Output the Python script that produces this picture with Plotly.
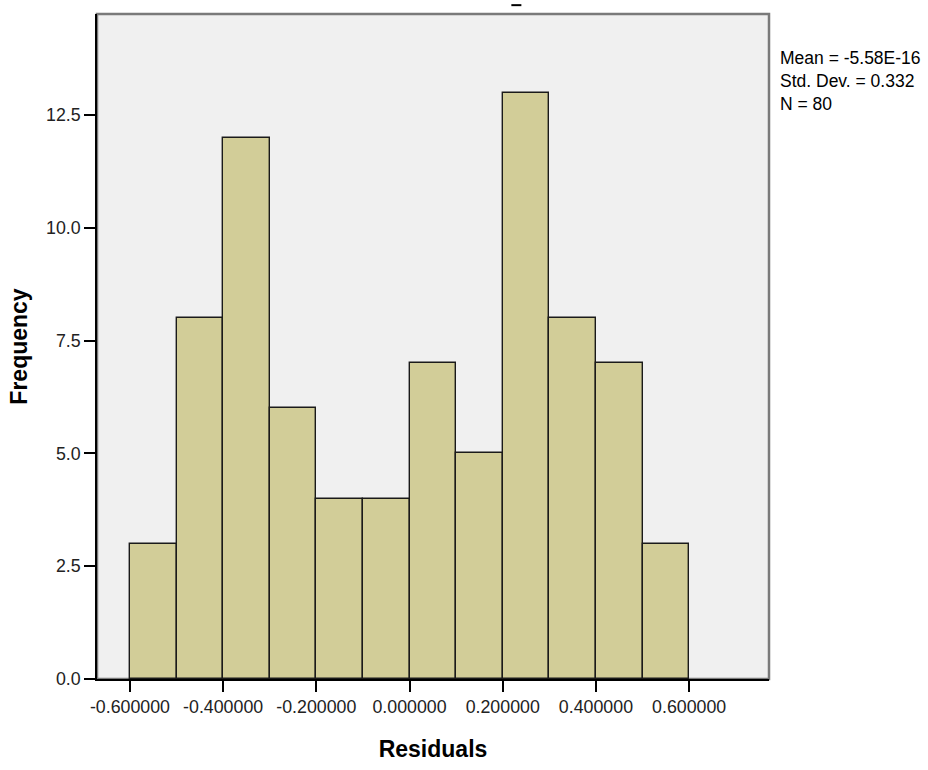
import plotly.graph_objects as go

# Data
bin_starts = [-0.6, -0.5, -0.4, -0.3, -0.2, -0.1, 0.0, 0.1, 0.2, 0.3, 0.4, 0.5]
counts = [3, 8, 12, 6, 4, 4, 7, 5, 13, 8, 7, 3]
bin_width = 0.1
x_tickvals = [-0.6, -0.4, -0.2, 0.0, 0.2, 0.4, 0.6]
x_ticktext = ["-0.600000", "-0.400000", "-0.200000", "0.000000", "0.200000", "0.400000", "0.600000"]
y_tickvals = [0, 2.5, 5, 7.5, 10, 12.5]
y_ticktext = ["0.0", "2.5", "5.0", "7.5", "10.0", "12.5"]
stats_lines = ["Mean = -5.58E-16", "Std. Dev. = 0.332", "N = 80"]

centers = [s + bin_width / 2 for s in bin_starts]

W, H = 928, 770
L, R, T, B = 97, 159, 14, 78

fig = go.Figure()
fig.add_trace(go.Bar(
    x=centers, y=counts, width=[bin_width] * len(counts),
    marker=dict(color="#d2cd98", line=dict(color="#1a1a1a", width=1.4)),
    showlegend=False, hoverinfo="skip",
))

font = "Liberation Sans, Arial, sans-serif"

fig.update_layout(
    width=W, height=H,
    margin=dict(l=L, r=R, t=T, b=B, pad=0),
    paper_bgcolor="white", plot_bgcolor="#f0f0f0",
    bargap=0,
    font=dict(family=font, size=17, color="#222222"),
    xaxis=dict(
        range=[-0.6707, 0.7714], tickvals=x_tickvals, ticktext=x_ticktext,
        showgrid=False, zeroline=False, showline=True, linecolor="#000000", linewidth=1.5,
        ticks="outside", ticklen=11, tickwidth=1.5, tickcolor="#000000",
        tickfont=dict(size=17.8, color="#222222", family=font),
        title=dict(text="<b>Residuals</b>", font=dict(size=23, color="#000000", family=font), standoff=25),
    ),
    yaxis=dict(
        range=[0, 14.74], tickvals=y_tickvals, ticktext=y_ticktext,
        showgrid=False, zeroline=False, showline=True, linecolor="#000000", linewidth=1.5,
        ticks="outside", ticklen=11, tickwidth=1.5, tickcolor="#000000",
        tickfont=dict(size=17.8, color="#222222", family=font),
        title=dict(text="<b>Frequency</b>", font=dict(size=23, color="#000000", family=font), standoff=12),
    ),
    shapes=[
        dict(type="rect", xref="paper", yref="paper", x0=0, x1=1, y0=0, y1=1,
             line=dict(color="#7a7a7a", width=2.5), layer="below"),
        dict(type="line", xref="paper", yref="paper", x0=0.6166, x1=0.6315, y0=1.0133, y1=1.0133,
             line=dict(color="#000000", width=2)),
    ],
)

fig.add_annotation(
    text="<br>".join(stats_lines), xref="paper", yref="paper",
    x=1.0134, y=1 - (47 - T) / (H - T - B),
    xanchor="left", yanchor="top", align="left", showarrow=False,
    font=dict(size=17.5, color="#000000", family=font),
)

fig.write_html("out.html")
